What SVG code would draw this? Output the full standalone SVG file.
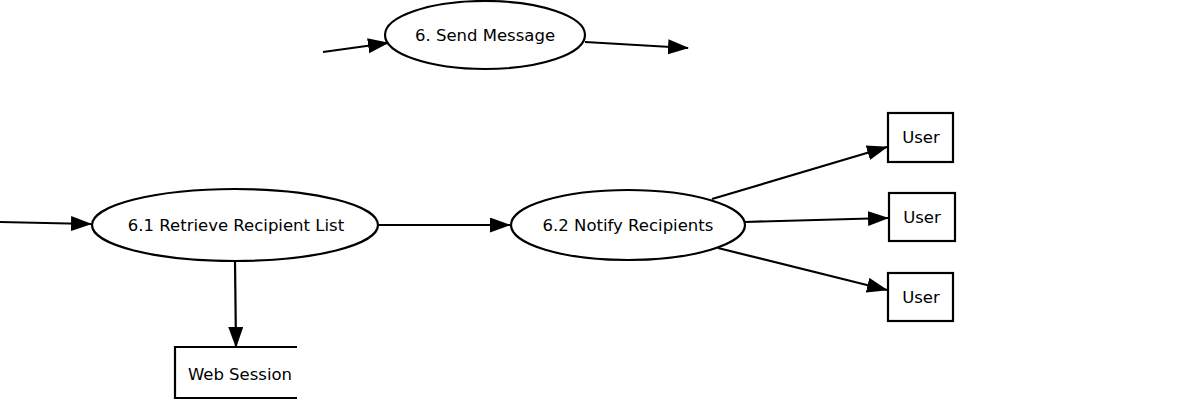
<svg xmlns="http://www.w3.org/2000/svg" width="1200" height="400" viewBox="0 0 1200 400">
<style>
.shape{fill:#fff;stroke:#000;stroke-width:2.2}
.lbl{font-family:"DejaVu Sans",sans-serif;font-size:16.5px;fill:#000;text-anchor:middle;dominant-baseline:central}
.conn{stroke:#000;stroke-width:2.2;fill:none;marker-end:url(#arr)}
</style>
<defs>
<marker id="arr" markerWidth="22" markerHeight="16" refX="20" refY="7.5" orient="auto" markerUnits="userSpaceOnUse">
<path d="M0,0 L21,7.5 L0,15 Z" fill="#000"/>
</marker>
</defs>
<rect width="1200" height="400" fill="#fff"/>
<g id="connectors">
<line class="conn" x1="323" y1="52" x2="388" y2="43"/>
<line class="conn" x1="585" y1="42" x2="688" y2="48"/>
<line class="conn" x1="0" y1="222" x2="91" y2="224"/>
<line class="conn" x1="378" y1="225" x2="510" y2="225"/>
<line class="conn" x1="235" y1="261" x2="236" y2="347"/>
<line class="conn" x1="712" y1="199" x2="887" y2="147"/>
<line class="conn" x1="745" y1="222" x2="888" y2="218"/>
<line class="conn" x1="718" y1="248" x2="887" y2="290"/>
</g>
<g id="send-message">
<ellipse class="shape" cx="485" cy="35" rx="100" ry="34"/>
<text class="lbl" x="485" y="35">6. Send Message</text>
</g>
<g id="retrieve-recipient-list">
<ellipse class="shape" cx="235" cy="225" rx="143" ry="36"/>
<text class="lbl" x="236" y="225">6.1 Retrieve Recipient List</text>
</g>
<g id="notify-recipients">
<ellipse class="shape" cx="628" cy="225" rx="117" ry="35"/>
<text class="lbl" x="628" y="225">6.2 Notify Recipients</text>
</g>
<g id="web-session">
<path class="shape" d="M297,347 L175,347 L175,398 L297,398" fill="none"/>
<text class="lbl" x="240" y="374">Web Session</text>
</g>
<g id="user-1">
<rect class="shape" x="888" y="113" width="65" height="49"/>
<text class="lbl" x="921" y="137">User</text>
</g>
<g id="user-2">
<rect class="shape" x="889" y="193" width="66" height="48"/>
<text class="lbl" x="922" y="217">User</text>
</g>
<g id="user-3">
<rect class="shape" x="888" y="273" width="65" height="48"/>
<text class="lbl" x="921" y="297">User</text>
</g>
</svg>
